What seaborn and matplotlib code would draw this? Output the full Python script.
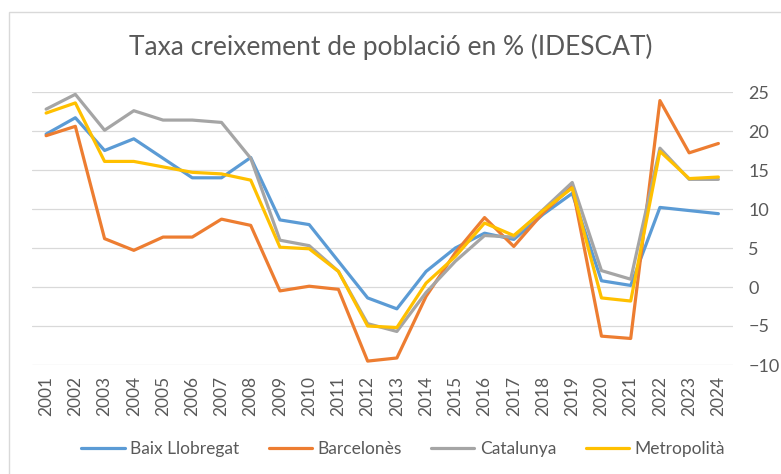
import matplotlib
matplotlib.use("Agg")
import matplotlib.pyplot as plt
import seaborn as sns
import pandas as pd
from matplotlib.patches import Rectangle

# dades (llegides del gràfic)
years = list(range(2001, 2025))
baix_llobregat = [19.6, 21.7, 17.5, 19.0, 16.5, 14.0, 14.0, 16.6, 8.6, 8.0, 3.3, -1.4, -2.8, 2.0,
                  5.0, 6.9, 6.1, 9.3, 12.0, 0.8, 0.2, 10.2, 9.8, 9.4]
barcelones = [19.4, 20.6, 6.2, 4.7, 6.4, 6.4, 8.7, 7.9, -0.5, 0.1, -0.3, -9.5, -9.1, -1.2,
              4.4, 8.9, 5.2, 9.5, 12.9, -6.3, -6.6, 23.9, 17.2, 18.4]
catalunya = [22.8, 24.7, 20.1, 22.6, 21.4, 21.4, 21.1, 16.5, 6.0, 5.3, 2.0, -4.7, -5.7, -0.7,
             3.3, 6.6, 6.4, 9.9, 13.4, 2.1, 1.0, 17.8, 13.8, 13.8]
metropolita = [22.3, 23.6, 16.1, 16.1, 15.4, 14.7, 14.5, 13.7, 5.1, 4.9, 2.0, -5.0, -5.2, 0.5,
               3.9, 8.2, 6.6, 9.8, 12.7, -1.4, -1.8, 17.4, 13.9, 14.1]
series_names = ["Baix Llobregat", "Barcelonès", "Catalunya", "Metropolità"]
colors = ["#5B9BD5", "#ED7D31", "#A5A5A5", "#FFC000"]

df = pd.DataFrame({"any": [str(y) for y in years],
                   "Baix Llobregat": baix_llobregat,
                   "Barcelonès": barcelones,
                   "Catalunya": catalunya,
                   "Metropolità": metropolita})
long_df = df.melt(id_vars="any", var_name="serie", value_name="taxa")

sns.set_style("white")
plt.rcParams["font.family"] = ["Lato", "DejaVu Sans"]

W, H = 781, 474
fig = plt.figure(figsize=(W / 100, H / 100), dpi=100)
ax = fig.add_axes([31.5 / W, 1 - 365 / H, (733 - 31.5) / W, (365 - 92) / H])

sns.lineplot(data=long_df, x="any", y="taxa", hue="serie", hue_order=series_names,
             palette=colors, linewidth=2.3, sort=False, ax=ax, legend=False)

ax.set_xlim(-0.5, len(years) - 0.5)
ax.set_ylim(-10, 25)
ax.set_yticks(range(-10, 26, 5))
ax.yaxis.tick_right()
ax.grid(axis="y", color="#D9D9D9", linewidth=0.9)
ax.set_axisbelow(True)
for s in ax.spines.values():
    s.set_visible(False)
ax.tick_params(axis="y", length=0, pad=11, labelsize=13, labelcolor="#595959")
ax.tick_params(axis="x", length=0, pad=8, labelsize=12.5, labelcolor="#595959", labelrotation=90)
ax.set_xlabel("")
ax.set_ylabel("")

fig.text(0.5, 1 - 47 / H, "Taxa creixement de població en % (IDESCAT)", ha="center", va="center",
         fontsize=19, color="#595959")

handles = [plt.Line2D([], [], color=c, linewidth=2.3) for c in colors]
fig.legend(handles, series_names, loc="center", bbox_to_anchor=(403 / W, 1 - 449 / H), ncol=4,
           frameon=False, fontsize=12.5, labelcolor="#595959", handlelength=2.5,
           handletextpad=0.3, columnspacing=1.7)

fig.patches.append(Rectangle((9 / W, -0.05), 1.0, 1 - 12 / H + 0.05, transform=fig.transFigure,
                             fill=False, edgecolor="#D9D9D9", linewidth=1))

fig.savefig("out.png", dpi=100)
